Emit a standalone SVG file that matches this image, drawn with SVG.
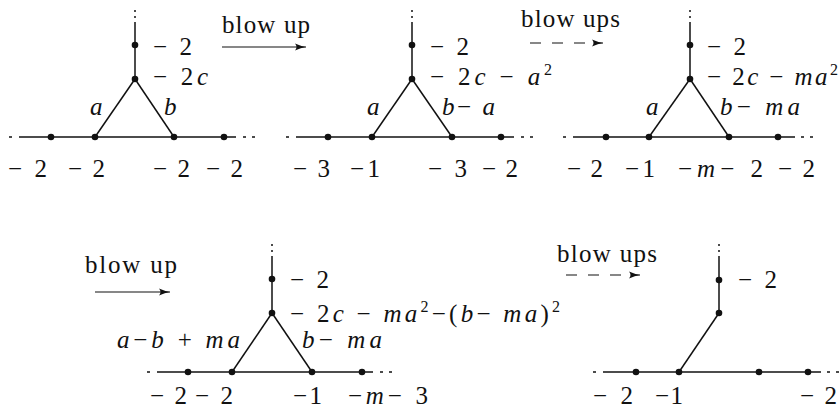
<svg xmlns="http://www.w3.org/2000/svg" width="840" height="410" viewBox="0 0 840 410" font-family="'Liberation Serif', 'DejaVu Serif', serif">
<style>
text{font-family:'Liberation Serif','DejaVu Serif',serif;font-size:25px;fill:#111}
.i{font-style:italic}
.s{font-size:16px}
.e{stroke:#111;stroke-width:1.5;fill:none}
.d{stroke:#111;stroke-width:1.5;fill:none;stroke-dasharray:3 6}
.v{stroke:#111;stroke-width:1.5;fill:none;stroke-dasharray:2 4}
.ar{stroke:#111;stroke-width:1.2;fill:none}
.da{stroke:#111;stroke-width:1.2;fill:none;stroke-dasharray:11 11}
circle{fill:#111}
</style>
<defs>
<marker id="ah" markerWidth="14" markerHeight="10" refX="12" refY="5" orient="auto" markerUnits="userSpaceOnUse">
<path d="M1,1.5 Q7,4.2 12,5 Q7,5.8 1,8.5 Q4,5 1,1.5Z" fill="#111"/>
</marker>
</defs>

<g id="connectors">
<line class="ar" x1="222" y1="47" x2="306" y2="47" marker-end="url(#ah)"/>
<line class="da" x1="530" y1="43" x2="603" y2="43" marker-end="url(#ah)"/>
<line class="ar" x1="95" y1="292" x2="170" y2="292" marker-end="url(#ah)"/>
<line class="da" x1="566" y1="275" x2="640" y2="275" marker-end="url(#ah)"/>

<line class="v" x1="135" y1="10" x2="135" y2="24"/>
<line class="e" x1="135" y1="24" x2="135" y2="79"/>
<line class="e" x1="135" y1="79" x2="95" y2="137"/>
<line class="e" x1="135" y1="79" x2="174" y2="137"/>
<line class="e" x1="19" y1="137" x2="236" y2="137"/>
<line class="d" x1="9" y1="137" x2="12" y2="137"/>
<line class="d" x1="243" y1="137" x2="258" y2="137"/>

<line class="v" x1="412" y1="10" x2="412" y2="24"/>
<line class="e" x1="412" y1="24" x2="412" y2="79"/>
<line class="e" x1="412" y1="79" x2="372" y2="137"/>
<line class="e" x1="412" y1="79" x2="452" y2="137"/>
<line class="e" x1="296" y1="137" x2="514" y2="137"/>
<line class="d" x1="286" y1="137" x2="289" y2="137"/>
<line class="d" x1="521" y1="137" x2="536" y2="137"/>

<line class="v" x1="690" y1="10" x2="690" y2="24"/>
<line class="e" x1="690" y1="24" x2="690" y2="79"/>
<line class="e" x1="690" y1="79" x2="649" y2="137"/>
<line class="e" x1="690" y1="79" x2="729" y2="137"/>
<line class="e" x1="573" y1="137" x2="795" y2="137"/>
<line class="d" x1="563" y1="137" x2="566" y2="137"/>
<line class="d" x1="801" y1="137" x2="816" y2="137"/>

<line class="v" x1="272" y1="244" x2="272" y2="258"/>
<line class="e" x1="272" y1="258" x2="272" y2="313"/>
<line class="e" x1="272" y1="313" x2="232" y2="372"/>
<line class="e" x1="272" y1="313" x2="312" y2="372"/>
<line class="e" x1="157" y1="372" x2="373" y2="372"/>
<line class="d" x1="147" y1="372" x2="150" y2="372"/>
<line class="d" x1="380" y1="372" x2="395" y2="372"/>

<line class="v" x1="719" y1="244" x2="719" y2="258"/>
<line class="e" x1="719" y1="258" x2="719" y2="313"/>
<line class="e" x1="719" y1="313" x2="679" y2="372"/>
<line class="e" x1="603" y1="372" x2="821" y2="372"/>
<line class="d" x1="593" y1="372" x2="596" y2="372"/>
<line class="d" x1="827" y1="372" x2="842" y2="372"/>
</g>

<g id="d1-n-top"><circle cx="135" cy="45" r="3.3"/><text x="153" y="55" textLength="39">− 2</text></g>
<g id="d1-n-v"><circle cx="135" cy="79" r="3.3"/><text x="153" y="85" textLength="55">− 2<tspan class="i">c</tspan></text></g>
<g id="d1-n-b1"><circle cx="51" cy="137" r="3.3"/><text x="8" y="177" textLength="39">− 2</text></g>
<g id="d1-n-b2"><circle cx="95" cy="137" r="3.3"/><text x="68" y="177" textLength="37">− 2</text></g>
<g id="d1-n-b3"><circle cx="174" cy="137" r="3.3"/><text x="153" y="177" textLength="37">− 2</text></g>
<g id="d1-n-b4"><circle cx="224" cy="137" r="3.3"/><text x="206" y="177" textLength="37">− 2</text></g>
<g id="d1-labels"><text class="i" x="90" y="115">a</text><text class="i" x="164" y="115">b</text></g>

<g id="d2-n-top"><circle cx="412" cy="45" r="3.3"/><text x="430" y="55" textLength="39">− 2</text></g>
<g id="d2-n-v"><circle cx="412" cy="79" r="3.3"/><text x="430" y="85" textLength="122">− 2<tspan class="i">c</tspan> − <tspan class="i">a</tspan><tspan class="s" dy="-10">2</tspan></text></g>
<g id="d2-n-b1"><circle cx="328" cy="137" r="3.3"/><text x="293" y="177" textLength="37">− 3</text></g>
<g id="d2-n-b2"><circle cx="372" cy="137" r="3.3"/><text x="350" y="177" textLength="30">−1</text></g>
<g id="d2-n-b3"><circle cx="452" cy="137" r="3.3"/><text x="428" y="177" textLength="39">− 3</text></g>
<g id="d2-n-b4"><circle cx="501" cy="137" r="3.3"/><text x="482" y="177" textLength="36">− 2</text></g>
<g id="d2-labels"><text class="i" x="367" y="115">a</text><text x="442" y="115" textLength="53"><tspan class="i">b</tspan>−<tspan class="i"> a</tspan></text></g>
<g id="arrow1-label"><text x="222" y="33" textLength="88">blow up</text></g>
<g id="arrow2-label"><text x="521" y="27" textLength="99">blow ups</text></g>

<g id="d3-n-top"><circle cx="690" cy="45" r="3.3"/><text x="707" y="55" textLength="39">− 2</text></g>
<g id="d3-n-v"><circle cx="690" cy="79" r="3.3"/><text x="707" y="85" textLength="131">− 2<tspan class="i">c</tspan> − <tspan class="i">ma</tspan><tspan class="s" dy="-10">2</tspan></text></g>
<g id="d3-n-b1"><circle cx="606" cy="137" r="3.3"/><text x="567" y="177" textLength="36">− 2</text></g>
<g id="d3-n-b2"><circle cx="649" cy="137" r="3.3"/><text x="625" y="177" textLength="30">−1</text></g>
<g id="d3-n-b3"><circle cx="729" cy="137" r="3.3"/><text x="678" y="177" textLength="85">−<tspan class="i">m</tspan>− 2</text></g>
<g id="d3-n-b4"><circle cx="778" cy="137" r="3.3"/><text x="778" y="177" textLength="37">− 2</text></g>
<g id="d3-labels"><text class="i" x="646" y="115">a</text><text x="720" y="115" textLength="80"><tspan class="i">b</tspan>− <tspan class="i">ma</tspan></text></g>

<g id="arrow3-label"><text x="85" y="273" textLength="92">blow up</text></g>
<g id="d4-n-top"><circle cx="272" cy="279" r="3.3"/><text x="290" y="288" textLength="39">− 2</text></g>
<g id="d4-n-v"><circle cx="272" cy="313" r="3.3"/><text x="290" y="322" textLength="270">− 2<tspan class="i">c</tspan> − <tspan class="i">ma</tspan><tspan class="s" dy="-10">2</tspan><tspan dy="10">−(</tspan><tspan class="i">b</tspan>− <tspan class="i">ma</tspan>)<tspan class="s" dy="-10">2</tspan></text></g>
<g id="d4-n-b1"><circle cx="188" cy="372" r="3.3"/><text x="150" y="404" textLength="37">− 2</text></g>
<g id="d4-n-b2"><circle cx="232" cy="372" r="3.3"/><text x="195" y="404" textLength="38">− 2</text></g>
<g id="d4-n-b3"><circle cx="312" cy="372" r="3.3"/><text x="293" y="404" textLength="29">−1</text></g>
<g id="d4-n-b4"><circle cx="362" cy="372" r="3.3"/><text x="348" y="404" textLength="80">−<tspan class="i">m</tspan>− 3</text></g>
<g id="d4-labels"><text x="117" y="348" textLength="123"><tspan class="i">a</tspan>−<tspan class="i">b</tspan> + <tspan class="i">ma</tspan></text><text x="302" y="348" textLength="80"><tspan class="i">b</tspan>− <tspan class="i">ma</tspan></text></g>

<g id="arrow4-label"><text x="557" y="262" textLength="100">blow ups</text></g>
<g id="d5-n-top"><circle cx="719" cy="280" r="3.3"/><text x="738" y="288" textLength="39">− 2</text></g>
<g id="d5-n-v"><circle cx="719" cy="313" r="3.3"/></g>
<g id="d5-n-b1"><circle cx="636" cy="372" r="3.3"/><text x="593" y="404" textLength="40">− 2</text></g>
<g id="d5-n-b2"><circle cx="679" cy="372" r="3.3"/><text x="655" y="404" textLength="28">−1</text></g>
<g id="d5-n-b3"><circle cx="759" cy="372" r="3.3"/></g>
<g id="d5-n-b4"><circle cx="808" cy="372" r="3.3"/><text x="800" y="404" textLength="37">− 2</text></g>
</svg>
